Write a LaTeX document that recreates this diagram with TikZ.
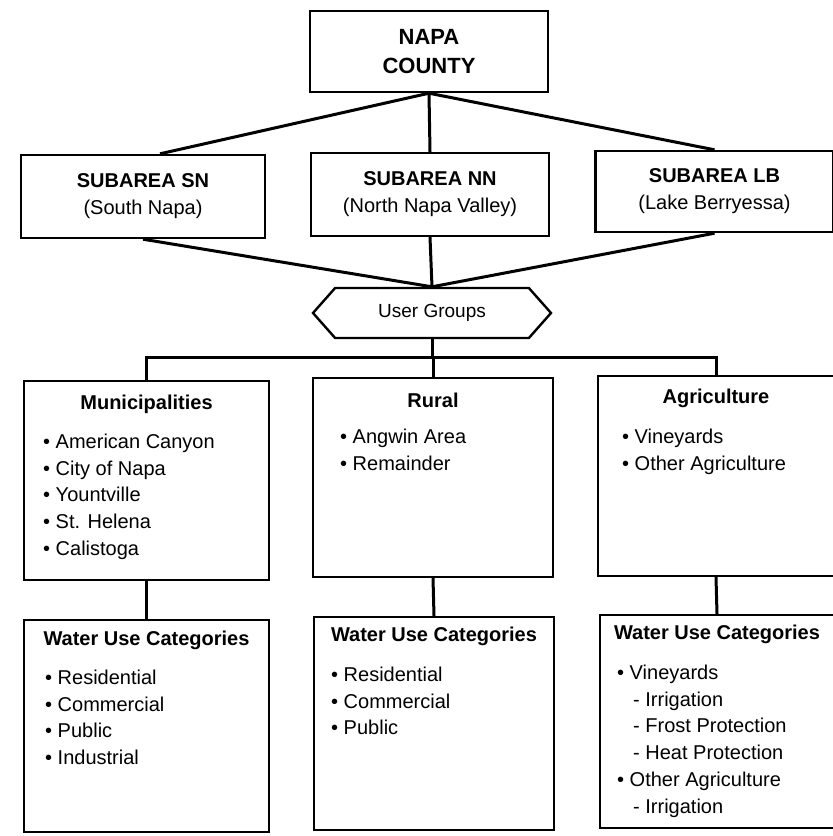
\documentclass[tikz,border=0pt]{standalone}
\usepackage{fontspec}
\setmainfont{Liberation Sans}
\usetikzlibrary{positioning,calc,shapes.symbols}

\begin{document}
\begin{tikzpicture}[x=0.5pt, y=-0.5pt,
    box/.style={draw, line width=1.2pt, inner sep=0pt},
    link/.style={line width=1.5pt},
    head/.style={font=\bfseries\fontsize{10}{12}\selectfont, inner sep=0pt},
    items/.style={font=\fontsize{10}{13.4}\selectfont, align=left, inner sep=0pt, anchor=north west}]
    \useasboundingbox (0,0) rectangle (833,836);
    % County
    \node[box, minimum width=119pt, minimum height=40.5pt, align=center, font=\bfseries\fontsize{11}{14.5}\selectfont] (county) at (429,51.5) {NAPA\\COUNTY};
    % Subareas
    \node[box, minimum width=122pt, minimum height=41.5pt, align=center, font=\fontsize{10}{13.5}\selectfont] (sn) at (143,196.5) {\textbf{SUBAREA SN}\\(South Napa)};
    \node[box, minimum width=119pt, minimum height=41.5pt, align=center, font=\fontsize{10}{13.5}\selectfont] (nn) at (430,194.5) {\textbf{SUBAREA NN}\\(North Napa Valley)};
    \node[box, minimum width=119pt, minimum height=40.5pt, align=center, font=\fontsize{10}{13.5}\selectfont] (lb) at (714.5,191.5) {\textbf{SUBAREA LB}\\(Lake Berryessa)};
    % User groups
    \node[draw, line width=1.2pt, signal, signal to=west and east, signal pointer angle=97, minimum width=119pt, minimum height=25pt, inner sep=0pt, font=\fontsize{9.5}{11}\selectfont] (users) at (432,313) {User Groups};
    \coordinate (bus) at (432,357);
    % Groups
    \node[box, minimum width=122.5pt, minimum height=99.5pt] (muni) at (146.5,480.5) {};
    \node[head] (munihead) at ($(muni.north)+(0,25)$) {Municipalities};
    \node[items] (munilist) at ($(muni.north west)+(20,53.5)$) {\textbullet\ American Canyon\\\textbullet\ City of Napa\\\textbullet\ Yountville\\\textbullet\ St. Helena\\\textbullet\ Calistoga};
    \node[box, minimum width=120pt, minimum height=99.5pt] (rural) at (433,477.5) {};
    \node[head] (ruralhead) at ($(rural.north)+(0,24)$) {Rural};
    \node[items] (rurallist) at ($(rural.north west)+(28,51.5)$) {\textbullet\ Angwin Area\\\textbullet\ Remainder};
    \node[box, minimum width=118pt, minimum height=100pt] (agri) at (716,476) {};
    \node[head] (agrihead) at ($(agri.north)+(0,24)$) {Agriculture};
    \node[items] (agrilist) at ($(agri.north west)+(25,53.5)$) {\textbullet\ Vineyards\\\textbullet\ Other Agriculture};
    % Water use categories
    \node[box, minimum width=122.5pt, minimum height=106pt] (muniwater) at (146.5,726) {};
    \node[head] (muniwaterhead) at ($(muniwater.north)+(0,22)$) {Water Use Categories};
    \node[items] (muniwaterlist) at ($(muniwater.north west)+(22,50.5)$) {\textbullet\ Residential\\\textbullet\ Commercial\\\textbullet\ Public\\\textbullet\ Industrial};
    \node[box, minimum width=120pt, minimum height=106.5pt] (ruralwater) at (434,723.5) {};
    \node[head] (ruralwaterhead) at ($(ruralwater.north)+(0,21)$) {Water Use Categories};
    \node[items] (ruralwaterlist) at ($(ruralwater.north west)+(18,50.5)$) {\textbullet\ Residential\\\textbullet\ Commercial\\\textbullet\ Public};
    \node[box, minimum width=117pt, minimum height=106.5pt] (agriwater) at (717,721.5) {};
    \node[head] (agriwaterhead) at ($(agriwater.north)+(0,21)$) {Water Use Categories};
    \node[items] (agriwaterlist) at ($(agriwater.north west)+(18,50.5)$) {\textbullet\ Vineyards\\\hspace*{8pt}- Irrigation\\\hspace*{8pt}- Frost Protection\\\hspace*{8pt}- Heat Protection\\\textbullet\ Other Agriculture\\\hspace*{8pt}- Irrigation};

    % Lines
    \draw[link] (county.south) -- ($(sn.north)+(17,0)$);
    \draw[link] (county.south) -- (nn.north);
    \draw[link] (county.south) -- (lb.north);
    \draw[link] (sn.south) -- (users.north);
    \draw[link] (nn.south) -- (users.north);
    \draw[link] (lb.south) -- (users.north);
    \draw[link] (users.south) -- (bus);
    \draw[link] (muni.north) |- (bus) -| (agri.north);
    \draw[link] (rural.north) -- (rural.north |- bus);
    \draw[link] (muni.south) -- (muniwater.north);
    \draw[link] (rural.south) -- (ruralwater.north);
    \draw[link] (agri.south) -- (agriwater.north);
\end{tikzpicture}
\end{document}
